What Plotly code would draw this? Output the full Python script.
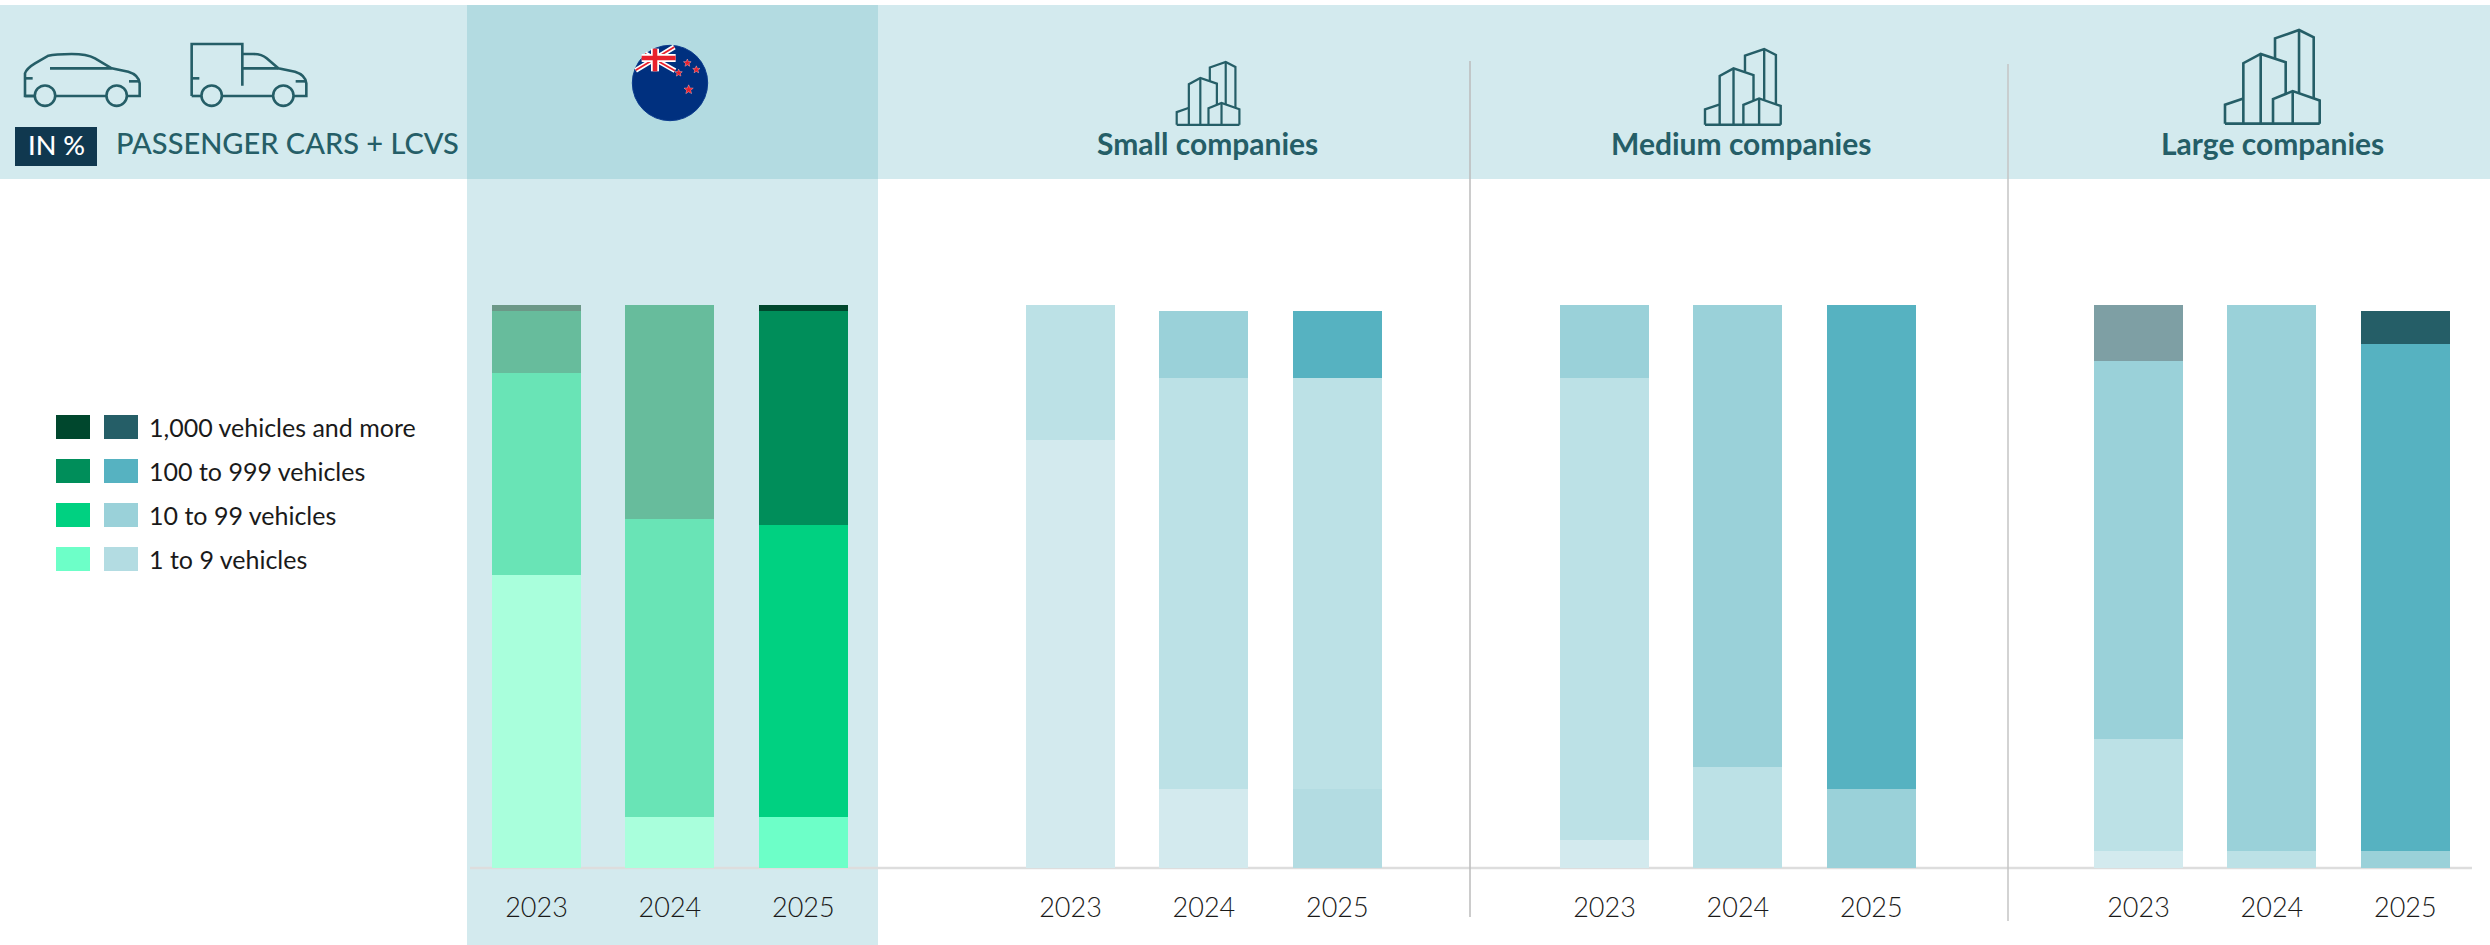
import plotly.graph_objects as go
import math

W, H = 2490, 945

YEARS = ["2023", "2024", "2025"]
SEGMENTS = ["1 to 9 vehicles", "10 to 99 vehicles", "100 to 999 vehicles", "1,000 vehicles and more"]
PANELS = ["New Zealand", "Small companies", "Medium companies", "Large companies"]

# values, bottom to top, one list per segment, one entry per year
NZ_1_9 = [52, 9, 9]
NZ_10_99 = [36, 53, 52]
NZ_100_999 = [11, 38, 38]
NZ_1000 = [1, 0, 1]
SMALL_1_9 = [76, 14, 14]
SMALL_10_99 = [24, 73, 73]
SMALL_100_999 = [0, 12, 12]
SMALL_1000 = [0, 0, 0]
MEDIUM_1_9 = [5, 0, 0]
MEDIUM_10_99 = [82, 18, 14]
MEDIUM_100_999 = [13, 82, 86]
MEDIUM_1000 = [0, 0, 0]
LARGE_1_9 = [3, 0, 0]
LARGE_10_99 = [20, 3, 3]
LARGE_100_999 = [67, 97, 90]
LARGE_1000 = [10, 0, 6]

VALUES = [
    [NZ_1_9, NZ_10_99, NZ_100_999, NZ_1000],
    [SMALL_1_9, SMALL_10_99, SMALL_100_999, SMALL_1000],
    [MEDIUM_1_9, MEDIUM_10_99, MEDIUM_100_999, MEDIUM_1000],
    [LARGE_1_9, LARGE_10_99, LARGE_100_999, LARGE_1000],
]

# styling, kept apart from the values
G1, G2, G3, G4 = "#6dffc8", "#00d181", "#008e5a", "#00472d"
GF1, GF2, GF3, GF4 = "#a9ffdc", "#69e4b6", "#67bc9c", "#6c9887"
T1, T2, T3, T4 = "#b3dce2", "#9ad1d9", "#56b2c1", "#255e67"
TF1, TF2, TF3, TF4 = "#d3eaee", "#bce1e6", "#9ad1d9", "#7e9fa4"
COLORS = [
    [[GF1, GF1, G1], [GF2, GF2, G2], [GF3, GF3, G3], [GF4, GF4, G4]],
    [[TF1, TF1, T1], [TF2, TF2, TF2], [TF3, TF3, T3], [TF4, TF4, T4]],
    [[TF1, TF1, T1], [TF2, TF2, T2], [TF3, T2, T3], [TF4, TF4, T4]],
    [[TF1, TF1, T1], [TF2, TF2, T2], [T2, T2, T3], [TF4, TF4, T4]],
]
W_, K_ = "#ffffff", "#000000"
TEXT = [
    [[K_, W_, K_], [W_, W_, W_], [W_, W_, W_], [W_, W_, W_]],
    [[K_, W_, K_], [W_, W_, W_], [W_, W_, W_], [W_, W_, W_]],
    [[K_, W_, W_], [W_, W_, W_], [W_, W_, W_], [W_, W_, W_]],
    [[K_, W_, W_], [W_, W_, W_], [W_, W_, W_], [W_, W_, W_]],
]
LIME, RED = "#b6e251", "#e6005c"
# highlight boxes: (panel, segment, year index) -> fill
BOXES = {
    (0, 0, 1): RED, (0, 1, 1): LIME, (0, 2, 1): LIME,
    (1, 0, 1): RED, (1, 1, 1): LIME, (1, 2, 1): LIME,
    (2, 1, 1): RED, (2, 2, 1): LIME,
}

DARK = "#255e67"
FONT = "Lato"
PX_TOP, PX_BASE = 305, 868
PANEL_LEFT = [469.75, 1003.75, 1537.75, 2071.75]
PANEL_W = 400.25


def px(x):
    return x / W


def py(y):
    return 1 - y / H


def rect(x0, y0, x1, y1, fill, layer="below"):
    return dict(type="rect", xref="paper", yref="paper", x0=px(x0), x1=px(x1), y0=py(y0), y1=py(y1),
                fillcolor=fill, line_width=0, layer=layer)


def line(x0, y0, x1, y1, color, width, layer="above"):
    return dict(type="line", xref="paper", yref="paper", x0=px(x0), x1=px(x1), y0=py(y0), y1=py(y1),
                line=dict(color=color, width=width), layer=layer)


def path(cmds, color=DARK, width=2.6, fill=None, layer="above"):
    """cmds: list of (letter, x, y, ...) in page pixels."""
    s = ""
    for c in cmds:
        if c[0] == "Z":
            s += "Z"
            continue
        nums = c[1:]
        pts = [f"{px(nums[i]):.6f},{py(nums[i + 1]):.6f}" for i in range(0, len(nums), 2)]
        s += c[0] + " ".join(pts)
    d = dict(type="path", xref="paper", yref="paper", path=s, layer=layer,
             line=dict(color=color, width=width))
    if fill:
        d["fillcolor"] = fill
    return d


def circle(cx, cy, r, fill=None, color=DARK, width=2.6):
    return dict(type="circle", xref="paper", yref="paper", x0=px(cx - r), x1=px(cx + r),
                y0=py(cy + r), y1=py(cy - r), layer="above",
                fillcolor=fill if fill else "rgba(0,0,0,0)",
                line=dict(color=color, width=width))


def vehicle(ox, van):
    """ox: page x of zoom origin, drawn from crop measurements (crop px / 3)."""
    f = lambda c: tuple([c[0]] + [(ox + v / 3) if i % 2 == 0 else (35 + v / 3) for i, v in enumerate(c[1:])])
    out = []
    if van:
        body = [("M", 30, 183), ("L", 30, 27), ("L", 182, 27), ("L", 182, 152)]
        cab = [("M", 182, 57), ("L", 215, 57), ("Q", 240, 57, 255, 70), ("L", 290, 100), ("L", 340, 110),
               ("Q", 372, 120, 374, 145), ("L", 374, 183), ("L", 335, 183)]
        out.append(path([f(c) for c in body]))
        out.append(path([f(c) for c in cab]))
        w = [("M", 182, 100), ("L", 290, 100)]
    else:
        body = [("M", 60, 183), ("L", 30, 183), ("L", 30, 115), ("Q", 35, 100, 60, 85), ("L", 100, 62),
                ("Q", 120, 57, 170, 57), ("Q", 215, 57, 240, 70), ("L", 290, 100), ("L", 340, 110),
                ("Q", 372, 120, 374, 145), ("L", 374, 183), ("L", 335, 183)]
        out.append(path([f(c) for c in body]))
        w = [("M", 105, 100), ("L", 290, 100)]
    out.append(path([f(c) for c in w]))
    out.append(path([f(c) for c in [("M", 30, 183), ("L", 60, 183)]]))
    out.append(path([f(c) for c in [("M", 120, 183), ("L", 275, 183)]]))
    out.append(path([f(c) for c in [("M", 30, 130), ("L", 53, 130)]]))
    out.append(path([f(c) for c in [("M", 342, 139), ("L", 374, 139)]]))
    for wx in (90, 305):
        out.append(circle(ox + wx / 3, 35 + 182 / 3, 10.2))
    return out


def building(x0, y0, w, h, width):
    """Outline taken from the large icon crop, scaled to the box."""
    sx, sy = w / 284, h / 283
    t = lambda pts: [(("M" if i == 0 else "L"), x0 + (a - 705) * sx, y0 + (b - 90) * sy) for i, (a, b) in enumerate(pts)]
    polys = [
        [(705, 372), (989, 372)],
        [(705, 372), (705, 315), (758, 297)],
        [(760, 372), (760, 190), (812, 162), (887, 187), (887, 282)],
        [(812, 162), (812, 372)],
        [(855, 175), (855, 115), (927, 90), (971, 112), (971, 295)],
        [(927, 90), (927, 282)],
        [(849, 372), (849, 298), (908, 274), (989, 302), (989, 372)],
        [(908, 274), (908, 372)],
    ]
    return [path(t(p), width=width) for p in polys]


def star(cx, cy, r, fill):
    cmds = []
    for i in range(10):
        rr = r if i % 2 == 0 else r * 0.42
        a = -math.pi / 2 + i * math.pi / 5
        cmds.append(("M" if i == 0 else "L", cx + rr * math.cos(a), cy + rr * math.sin(a)))
    cmds.append(("Z",))
    return path(cmds, color=fill, width=0.5, fill=fill)


def flag():
    o = lambda a, b: (625 + a / 3, 38 + b / 3)
    seg = lambda a, b, c, d, col, wd: line(*o(a, b), *o(c, d), col, wd)
    s = [circle(670, 83, 37.7, fill="#00307f", color="#0a3a8c", width=1)]
    s += [seg(32, 97, 148, 27, "#ffffff", 5), seg(60, 47, 150, 98, "#ffffff", 5),
          seg(32, 97, 148, 27, "#e8202c", 1.8), seg(60, 47, 150, 98, "#e8202c", 1.8),
          seg(90, 32, 90, 100, "#ffffff", 8), seg(50, 60, 152, 60, "#ffffff", 8),
          seg(90, 32, 90, 100, "#e8202c", 4.6), seg(50, 60, 152, 60, "#e8202c", 4.6)]
    for a, b, r in [(187, 75, 3.2), (214, 95, 3), (161, 105, 3), (191, 155, 4)]:
        x, y = o(a, b)
        s.append(star(x, y, r + 0.8, "#f4b6bc"))
        s.append(star(x, y, r, "#e8202c"))
    return s


shapes = [
    rect(0, 5, W, 179, "#d3eaee"),
    rect(467, 5, 878, 945, "#d3eaee"),
    rect(467, 5, 878, 179, "#b3dbe1"),
    line(470, PX_BASE, 2472, PX_BASE, "#dddddd", 2.5, layer="below"),
    line(1470, 61, 1470, 917, "#bbbbbb", 1.5, layer="below"),
    line(2008, 64, 2008, 921, "#c4c4c4", 1.5, layer="below"),
]
shapes += vehicle(15, False) + vehicle(15 + 500 / 3, True)
shapes += flag()
shapes += building(1176.7, 62, 62.7, 63, 2.2)
shapes += building(1705, 49, 75.7, 76, 2.4)
shapes += building(2225, 30, 94.7, 94, 2.6)

annotations = []


def note(x, y, text, size, color, weight=400, anchor="center"):
    annotations.append(dict(xref="paper", yref="paper", x=px(x), y=py(y), text=text, showarrow=False,
                            xanchor=anchor, yanchor="middle",
                            font=dict(family=FONT, size=size, color=color, weight=weight)))


shapes.append(rect(15, 127, 97, 166, "#10384f", layer="above"))
note(56, 144, "IN %", 27, "#ffffff", 500)
note(114, 143, "PASSENGER CARS + LCVS", 29, DARK, 500, anchor="left")
note(1207, 143, "Small companies", 30, DARK, 700)
note(1741, 143, "Medium companies", 30, DARK, 700)
note(2272, 143, "Large companies", 30, DARK, 700)

# legend
LEGEND_ROWS = [(427, G4, T4, 3), (471, G3, T3, 2), (515, G2, T2, 1), (559, G1, T1, 0)]
for yc, g, t, idx in LEGEND_ROWS:
    shapes.append(rect(56, yc - 12, 90, yc + 12, g))
    shapes.append(rect(104, yc - 12, 138, yc + 12, t))
    note(147, yc, SEGMENTS[idx], 25, "#1a1a1a", 400, anchor="left")

fig = go.Figure()
layout_axes = {}
for p, panel in enumerate(VALUES):
    ax = "x" if p == 0 else f"x{p + 1}"
    axkey = "xaxis" if p == 0 else f"xaxis{p + 1}"
    layout_axes[axkey] = dict(
        domain=[PANEL_LEFT[p] / W, (PANEL_LEFT[p] + PANEL_W) / W], type="category",
        categoryorder="array", categoryarray=YEARS, range=[-0.5, 2.5], anchor="y",
        showline=False, showgrid=False, zeroline=False, ticks="outside", ticklen=16,
        tickcolor="rgba(0,0,0,0)", tickfont=dict(family=FONT, size=27, color="#1a1a1a", weight=300),
        fixedrange=True)
    bottoms = [0, 0, 0]
    for s, series in enumerate(panel):
        fig.add_bar(x=YEARS, y=series, name=SEGMENTS[s], xaxis=ax, yaxis="y", showlegend=False,
                    marker=dict(color=COLORS[p][s], line_width=0), hoverinfo="x+y+name")
        for i, v in enumerate(series):
            if v > 0:
                a = dict(xref=ax, yref="y", x=YEARS[i], y=bottoms[i] + v / 2, text=str(v), showarrow=False,
                         xanchor="center", yanchor="middle",
                         font=dict(family=FONT, size=35, color=TEXT[p][s][i], weight=500))
                if (p, s, i) in BOXES:
                    a.update(bgcolor=BOXES[(p, s, i)], bordercolor="#ffffff", borderwidth=3, borderpad=0,
                             width=52 if v >= 10 else 32, height=49, valign="middle")
                annotations.append(a)
            bottoms[i] += v

fig.update_layout(
    width=W, height=H, margin=dict(l=0, r=0, t=0, b=0), autosize=False,
    paper_bgcolor="#ffffff", plot_bgcolor="rgba(0,0,0,0)",
    barmode="stack", bargap=1 / 3, showlegend=False,
    yaxis=dict(domain=[1 - PX_BASE / H, 1 - PX_TOP / H], range=[0, 100], visible=False, fixedrange=True),
    shapes=shapes, annotations=annotations, font=dict(family=FONT),
    **layout_axes,
)
fig.write_html("out.html", config={"displayModeBar": False},
               post_script="document.body.style.margin='0';document.documentElement.style.overflow='hidden';")
